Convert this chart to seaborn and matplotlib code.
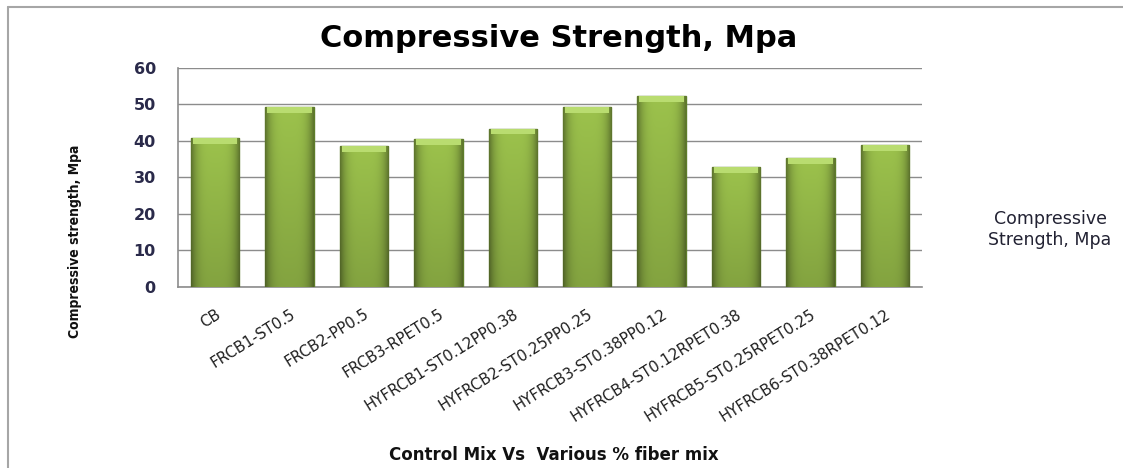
import matplotlib
matplotlib.use("Agg")
import matplotlib.pyplot as plt
import matplotlib.colors as mcolors
import seaborn as sns
import numpy as np
import pandas as pd

sns.set_theme(style="white")

# ---- data ----
mixes = ["CB", "FRCB1-ST0.5", "FRCB2-PP0.5", "FRCB3-RPET0.5",
         "HYFRCB1-ST0.12PP0.38", "HYFRCB2-ST0.25PP0.25", "HYFRCB3-ST0.38PP0.12",
         "HYFRCB4-ST0.12RPET0.38", "HYFRCB5-ST0.25RPET0.25", "HYFRCB6-ST0.38RPET0.12"]
strength = [40.8, 49.3, 38.5, 40.5, 43.4, 49.3, 52.2, 32.9, 35.2, 38.8]
y_ticks = [0, 10, 20, 30, 40, 50, 60]

df = pd.DataFrame({"mix": mixes, "strength": strength})

fig = plt.figure(figsize=(11.23, 4.68), dpi=100)
ax = fig.add_axes([0.1585, 0.3868, 0.6625, 0.468])

sns.barplot(data=df, x="mix", y="strength", color="#93b944", width=0.65,
            edgecolor="#5e7d2a", linewidth=1.0, saturation=1, ax=ax, zorder=3)

# Excel-like shading: gradient image clipped to each bar
base = np.array(mcolors.to_rgb("#9cc24c"))
xs = np.linspace(0, 1, 40)
ys = np.linspace(0, 1, 80)
side = 1 - 0.38 * (np.abs(xs - 0.5) * 2) ** 4
vert = 0.84 + 0.16 * ys          # brighter near the top
shade = vert[:, None] * side[None, :]
img = np.clip(base[None, None, :] * shade[:, :, None], 0, 1)
for bar in ax.patches:
    x0, y0 = bar.get_x(), bar.get_y()
    w, h = bar.get_width(), bar.get_height()
    im = ax.imshow(img, extent=[x0, x0 + w, y0, y0 + h], origin="lower",
                   aspect="auto", zorder=3.5, interpolation="bilinear")
    im.set_clip_path(bar)
    cap = min(1.6, h)
    ax.fill_between([x0 + 0.04 * w, x0 + 0.96 * w], y0 + h - cap, y0 + h,
                    color="#b9dc70", zorder=3.6, linewidth=0)
ax.set_xlim(-0.5, len(mixes) - 0.5)
ax.set_ylim(0, 60)

ax.set_yticks(y_ticks)
ax.yaxis.grid(True, color="#8c8c8c", linewidth=1, zorder=0)
ax.set_axisbelow(True)
for s in ["top", "right"]:
    ax.spines[s].set_visible(False)
for s in ["left", "bottom"]:
    ax.spines[s].set_color("#8c8c8c")
    ax.spines[s].set_linewidth(1.2)

ax.tick_params(axis="y", length=0, pad=16, labelsize=11.5, labelcolor="#2a2a4a")
for t in ax.get_yticklabels():
    t.set_fontweight("bold")
ax.tick_params(axis="x", length=0, pad=14)
ax.set_xticks(range(len(mixes)))
ax.set_xticklabels(mixes, rotation=32, ha="right", rotation_mode="anchor",
                   fontsize=10.8, color="#1e1e1e")
ax.set_xlabel("")
ax.set_ylabel("")

fig.text(0.497, 0.918, "Compressive Strength, Mpa", ha="center", va="center",
         fontsize=22, fontweight="bold", color="black")
fig.text(0.067, 0.485, "Compressive strength, Mpa", rotation=90, ha="center", va="center",
         fontsize=10, fontweight="bold", fontstretch="condensed", color="#111111",
         family=["Liberation Sans Narrow", "DejaVu Sans"])
fig.text(0.493, 0.028, "Control Mix Vs  Various % fiber mix", ha="center", va="center",
         fontsize=12, fontweight="bold", color="#111111")
fig.text(0.935, 0.51, "Compressive\nStrength, Mpa", ha="center", va="center",
         fontsize=12.5, color="#222233", linespacing=1.2)

# frame of the chart area: top and left edges only
fig.add_artist(plt.Line2D([0.007, 0.007], [0, 0.984], transform=fig.transFigure,
                          color="#a6a6a6", linewidth=1.5))
fig.add_artist(plt.Line2D([0.007, 1.0], [0.984, 0.984], transform=fig.transFigure,
                          color="#a6a6a6", linewidth=1.5))

fig.savefig("out.png", dpi=100)
